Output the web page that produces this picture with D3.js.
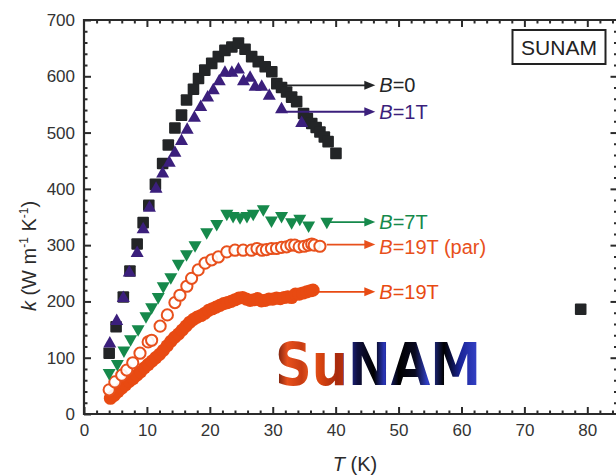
<!DOCTYPE html>
<html><head><meta charset="utf-8">
<script src="https://cdn.jsdelivr.net/npm/d3@7"></script>
<style>
html,body{margin:0;padding:0;background:#fff;overflow:hidden;}
svg{display:block;font-family:"Liberation Sans",Arial,sans-serif;}
</style></head>
<body>
<svg id="chart" width="616" height="476"></svg>
<script>
// ---- Data ----
const xTicks = [0,10,20,30,40,50,60,70,80];
const yTicks = [0,100,200,300,400,500,600,700];

const T_B0 = [4.0,5.1,6.25,7.3,8.45,9.4,10.3,11.35,12.5,13.4,14.45,15.5,16.3,17.4,18.2,19.2,20.3,21.35,22.4,23.5,24.55,25.6,26.65,27.7,28.8,29.85,30.65,31.4,32.2,33.0,33.8,34.9,35.5,36.2,36.9,37.5,38.2,38.8,40.05,78.95];
const k_B0 = [108,155,208,254,302,340,371,408,445,478,508,531,558,577,596,611,623,635,646,652,659,648,635,626,617,608,587,580,572,563,555,534,525,516,509,501,492,484,463,186];

const T_B1 = [4.1,5.2,6.25,7.2,8.45,9.4,10.4,11.45,12.5,13.55,14.45,15.5,16.4,17.55,18.55,19.65,20.55,21.5,22.4,23.5,24.55,25.35,26.4,27.2,28.25,29.45,31.4,34.6];
const k_B1 = [127,167,208,253,288,330,368,402,429,448,466,487,507,528,547,564,577,593,608,608,614,593,599,583,583,567,543,519];

const T_B7 = [4.0,5.3,6.35,7.4,8.6,9.85,10.75,11.8,12.6,13.8,15.0,16.3,17.65,19.5,21.1,22.7,23.7,24.8,25.9,26.9,28.5,29.8,31.4,33.0,34.3,35.7,38.6];
const k_B7 = [71,87,111,131,149,172,188,206,225,241,265,282,298,321,336,354,350,348,350,354,362,342,350,339,345,333,340];

const T_B19par = [4.0,4.9,6.0,6.8,7.75,8.9,10.2,10.75,12.1,13.25,14.45,15.25,16.35,17.1,18.15,19.25,20.3,21.35,22.7,24.0,25.3,26.6,27.5,28.3,29.0,29.8,30.6,31.4,32.2,32.9,33.5,34.2,35.0,35.7,36.2,36.6,37.5];
const k_B19par = [43,57,69,78,91,108,128,131,156,176,198,211,227,241,256,268,274,279,288,291,291,291,294,291,292,294,294,296,297,300,300,297,298,300,302,300,298];

const T_B19 = [4.2,4.8,5.4,6.0,6.6,7.2,7.8,8.4,9.0,9.6,10.2,10.8,11.4,12.0,12.6,13.2,13.8,14.4,15.0,15.6,16.2,16.8,17.4,18.0,18.6,19.2,19.8,20.4,21.0,21.6,22.2,22.8,23.4,24.0,24.6,25.2,25.8,26.4,27.0,27.6,28.2,28.8,29.4,30.0,30.6,31.2,31.8,32.4,33.0,33.6,34.2,34.8,35.4,36.0,36.4];
const k_B19 = [28,33,40,46,52,58,63,69,75,82,88,94,100,106,113,121,129,136,142,149,156,163,168,172,175,179,184,187,190,193,196,198,200,203,206,207,204,202,203,205,201,202,204,204,206,205,207,208,207,213,213,215,217,219,220];

const seriesNames = ["B=0","B=1T","B=7T","B=19T (par)","B=19T"];

// ---- Layout ----
const svg = d3.select("#chart");
const x = d3.scaleLinear().domain([0,84.8]).range([84,617.5]);
const y = d3.scaleLinear().domain([0,700]).range([414,20]);
const axisColor = "#2b2b2b";

// Frame lines
const gAx = svg.append("g");
{
  const [x0,x1]=x.range(), [y0,y1]=y.range();
  gAx.append("line").attr("x1",x0).attr("x2",x0).attr("y1",y0+1).attr("y2",y1-1);
  gAx.append("line").attr("x1",x1).attr("x2",x1).attr("y1",y0+1).attr("y2",y1-1);
  gAx.append("line").attr("x1",x0-1).attr("x2",x1+1).attr("y1",y0).attr("y2",y0);
  gAx.append("line").attr("x1",x0-1).attr("x2",x1+1).attr("y1",y1).attr("y2",y1);
  gAx.selectAll("line").attr("stroke",axisColor).attr("stroke-width",2.2);
}

const minorX = d3.range(0,85,2).filter(v=>v%10!==0);
const minorY = d3.range(0,701,20).filter(v=>v%100!==0);

function styleAxis(g){
  g.select(".domain").remove();
  g.selectAll(".tick line").attr("stroke",axisColor).attr("stroke-width",2);
  g.selectAll(".tick text").attr("fill","#333").attr("font-size",17).attr("font-family","Liberation Sans, Arial, sans-serif");
}
// bottom
svg.append("g").attr("transform",`translate(0,${y(0)})`)
  .call(d3.axisBottom(x).tickValues(xTicks).tickSizeInner(-7).tickSizeOuter(0).tickPadding(10).tickFormat(d3.format("d")))
  .call(styleAxis);
svg.append("g").attr("transform",`translate(0,${y(0)})`)
  .call(d3.axisBottom(x).tickValues(minorX).tickSizeInner(-3.5).tickSizeOuter(0).tickFormat(""))
  .call(styleAxis);
// top
svg.append("g").attr("transform",`translate(0,${y(700)})`)
  .call(d3.axisTop(x).tickValues(xTicks.filter(v=>v>0)).tickSizeInner(-7).tickSizeOuter(0).tickFormat(""))
  .call(styleAxis);
svg.append("g").attr("transform",`translate(0,${y(700)})`)
  .call(d3.axisTop(x).tickValues(minorX).tickSizeInner(-3.5).tickSizeOuter(0).tickFormat(""))
  .call(styleAxis);
// left
svg.append("g").attr("transform",`translate(${x(0)},0)`)
  .call(d3.axisLeft(y).tickValues(yTicks).tickSizeInner(-7).tickSizeOuter(0).tickPadding(9).tickFormat(d3.format("d")))
  .call(styleAxis);
svg.append("g").attr("transform",`translate(${x(0)},0)`)
  .call(d3.axisLeft(y).tickValues(minorY).tickSizeInner(-3.5).tickSizeOuter(0).tickFormat(""))
  .call(styleAxis);
// right
svg.append("g").attr("transform",`translate(${x.range()[1]},0)`)
  .call(d3.axisRight(y).tickValues(yTicks.filter(v=>v>0&&v<700)).tickSizeInner(-7).tickSizeOuter(0).tickFormat(""))
  .call(styleAxis);
svg.append("g").attr("transform",`translate(${x.range()[1]},0)`)
  .call(d3.axisRight(y).tickValues(minorY).tickSizeInner(-3.5).tickSizeOuter(0).tickFormat(""))
  .call(styleAxis);

// Axis titles
const xt = svg.append("text").attr("x",355).attr("y",471).attr("text-anchor","middle").attr("font-size",20).attr("fill","#2b2b2b");
xt.append("tspan").attr("font-style","italic").text("T");
xt.append("tspan").text(" (K)");
const yt = svg.append("text").attr("transform","translate(36,256) rotate(-90)").attr("text-anchor","middle").attr("font-size",20).attr("fill","#2b2b2b");
yt.append("tspan").attr("font-style","italic").text("k");
yt.append("tspan").text(" (W m");
yt.append("tspan").attr("font-size",12).attr("dy",-8).text("-1");
yt.append("tspan").attr("dy",8).text(" K");
yt.append("tspan").attr("font-size",12).attr("dy",-8).text("-1");
yt.append("tspan").attr("dy",8).text(")");

// ---- Logo (SuNAM) : one text, coloured with a single gradient ----
const defs = svg.append("defs");
const gr = defs.append("linearGradient").attr("id","gLogo").attr("gradientUnits","userSpaceOnUse")
  .attr("x1",275).attr("y1",0).attr("x2",481).attr("y2",0);
[[0,"#5a150c"],[0.06,"#e8501c"],[0.13,"#c83c12"],[0.17,"#e85a22"],[0.22,"#d8440f"],[0.3,"#a82a0c"],[0.33,"#b8300c"],
 [0.335,"#2c3acc"],[0.4,"#101040"],[0.48,"#000"],[0.53,"#2a36b8"],[0.6,"#000"],[0.68,"#0a0a20"],
 [0.74,"#3040c8"],[0.82,"#000"],[0.9,"#1a2498"],[1,"#3a48d0"]]
 .forEach(([o,c])=>gr.append("stop").attr("offset",o).attr("stop-color",c));
svg.append("text").attr("x",275).attr("y",385)
  .attr("font-family","DejaVu Sans, sans-serif").attr("font-weight","bold").attr("font-size",58)
  .attr("textLength",206).attr("lengthAdjust","spacingAndGlyphs").attr("fill","url(#gLogo)").text("SuNAM");

// ---- SUNAM box ----
svg.append("rect").attr("x",512.5).attr("y",30).attr("width",93).attr("height",34).attr("fill","#fff").attr("stroke","#222").attr("stroke-width",2);
svg.append("text").attr("x",559).attr("y",54.5).attr("text-anchor","middle").attr("font-size",21).attr("fill","#222").text("SUNAM");

// ---- Annotation arrows ----
const cols = {b0:"#232527", b1:"#3b1f7c", b7:"#16894b", par:"#e8501c", b19:"#e84a12"};
const ann = [
  {name:seriesNames[0], c:cols.b0, t0:31.6, k:584, dy:7},
  {name:seriesNames[1], c:cols.b1, t0:32.0, k:537, dy:7},
  {name:seriesNames[2], c:cols.b7, t0:38.8, k:341, dy:7},
  {name:seriesNames[3], c:cols.par, t0:38.6, k:301, dy:9},
  {name:seriesNames[4], c:cols.b19, t0:36.4, k:217, dy:7}
];
const tEnd = 46.3;

// ---- Series ----
const plot = svg.append("g");
const zip = (a,b)=>a.map((v,i)=>[v,b[i]]);
// B=19T filled
plot.append("g").selectAll("circle").data(zip(T_B19,k_B19)).join("circle")
  .attr("cx",d=>x(d[0])).attr("cy",d=>y(d[1])).attr("r",6.6).attr("fill",cols.b19);
// B=19T par open
plot.append("g").selectAll("circle").data(zip(T_B19par,k_B19par)).join("circle")
  .attr("cx",d=>x(d[0])).attr("cy",d=>y(d[1])).attr("r",5.6).attr("fill","#fff").attr("fill-opacity",0.9).attr("stroke",cols.par).attr("stroke-width",2);
// B=7T inverted triangles
plot.append("g").selectAll("path").data(zip(T_B7,k_B7)).join("path")
  .attr("d",d=>{const cx=x(d[0]),cy=y(d[1]);return `M${cx-6.5},${cy-5} L${cx+6.5},${cy-5} L${cx},${cy+6.5} Z`;})
  .attr("fill",cols.b7);
// B=0 squares
plot.append("g").selectAll("rect").data(zip(T_B0,k_B0)).join("rect")
  .attr("x",d=>x(d[0])-5.8).attr("y",d=>y(d[1])-5.8).attr("width",11.6).attr("height",11.6).attr("rx",1)
  .attr("fill",cols.b0);
// B=1T triangles
plot.append("g").selectAll("path").data(zip(T_B1,k_B1)).join("path")
  .attr("d",d=>{const cx=x(d[0]),cy=y(d[1]);return `M${cx-6.5},${cy+5} L${cx+6.5},${cy+5} L${cx},${cy-6.5} Z`;})
  .attr("fill",cols.b1);

// arrows + labels on top
const annG = svg.append("g");
ann.forEach(a=>{
  const x0=x(a.t0), x1=x(tEnd), yy=y(a.k);
  annG.append("line").attr("x1",x0).attr("x2",x1-8).attr("y1",yy).attr("y2",yy).attr("stroke",a.c).attr("stroke-width",1.8);
  annG.append("path").attr("d",`M${x1},${yy} L${x1-11},${yy-4.5} L${x1-11},${yy+4.5} Z`).attr("fill",a.c);
  const tx = annG.append("text").attr("x",x1+4).attr("y",yy+a.dy).attr("font-size",20).attr("fill",a.c);
  const parts = a.name.split("=");
  tx.append("tspan").attr("font-style","italic").text(parts[0]);
  tx.append("tspan").text("="+parts[1]);
});
</script>
</body></html>
